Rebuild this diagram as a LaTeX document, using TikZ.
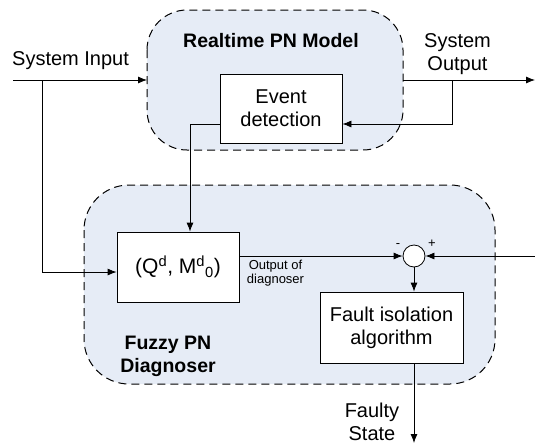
\documentclass[tikz,border=0pt]{standalone}
\usepackage{fontspec}
\setmainfont{Liberation Sans}
\usetikzlibrary{arrows.meta,calc}

\definecolor{regionfill}{HTML}{E6ECF6}

\tikzset{
  region/.style={draw=black, fill=regionfill, dash pattern=on 8pt off 5pt, line width=1pt},
  blockbox/.style={draw=black, fill=white, line width=0.8pt, inner sep=0pt, align=center,
    font=\fontsize{20}{23}\selectfont},
  sumnode/.style={draw=black, fill=white, circle, minimum size=22pt, inner sep=0pt, line width=0.8pt},
  wire/.style={line width=0.8pt},
  flow/.style={wire, -{Latex[length=9pt,width=7pt]}},
  lbl/.style={inner sep=0pt, align=center, font=\fontsize{20}{22.5}\selectfont},
  title/.style={inner sep=0pt, align=center, font=\fontsize{19.5}{23}\selectfont\bfseries},
  small/.style={inner sep=0pt, align=center, font=\fontsize{13}{14}\selectfont}
}

\begin{document}
\begin{tikzpicture}[x=1pt, y=-1pt]
\useasboundingbox (0,0) rectangle (535,445);

% dashed sub-system regions
\draw[region, rounded corners=40pt] (147,10) rectangle (403,150);
\draw[region, rounded corners=45pt] (84,185) rectangle (495,384);

% blocks
\node[blockbox, minimum width=122pt, minimum height=69pt] (ev) at (281,108.5) {Event\\detection};
\node[blockbox, minimum width=122pt, minimum height=70pt, font=\fontsize{21}{24}\selectfont] (q) at (178,267)
  {(Q\textsuperscript{d}, M\textsuperscript{d}\textsubscript{0})};
\node[blockbox, minimum width=143pt, minimum height=71pt] (fi) at (391.5,327.5) {Fault isolation\\algorithm};
\node[sumnode] (sum) at (414,256) {};

% labels
\node[lbl, anchor=base west] (sysin) at (12,65) {System Input};
\node[title, anchor=base] (rt) at (271,47) {Realtime PN Model};
\node[lbl] (sysout) at (457.5,54) {System\\Output};
\node[title] (fz) at (168,356) {Fuzzy PN\\Diagnoser};
\node[lbl] (fs) at (372,422) {Faulty\\State};
\node[small, anchor=base] (od) at (275.5,283) {Output of\\diagnoser};
\node[small] (minus) at (398,246) {-};
\node[small] (plus) at (432,244) {+};

% connection points
\coordinate (inL) at (13,80);
\coordinate (inR) at (147,80);
\coordinate (inB) at (42,80);
\coordinate (outL) at (403,80);
\coordinate (outR) at (535,80);
\coordinate (outB) at (452,80);
\coordinate (evB) at (190,124);
\coordinate (resIn) at (535,256);
\coordinate (fsEnd) at (414,443);

% system input and its branch to the diagnoser
\draw[flow] (inL) -- (inR);
\draw[flow] (inB) |- ([yshift=-5pt]q.west);

% system output and its feedback to event detection
\draw[flow] (outL) -- (outR);
\draw[flow] (outB) |- (ev.east |- evB);

% event detection to diagnoser
\draw[flow] (ev.west |- evB) -| (q.north -| evB);

% diagnoser output and residual
\draw[flow] (q.east |- sum.west) -- (sum.west);
\draw[flow] (resIn) -- (sum.east);
\draw[flow] (sum.south) -- (sum.south |- fi.north);
\draw[flow] (sum.south |- fi.south) -- (fsEnd);
\end{tikzpicture}
\end{document}
